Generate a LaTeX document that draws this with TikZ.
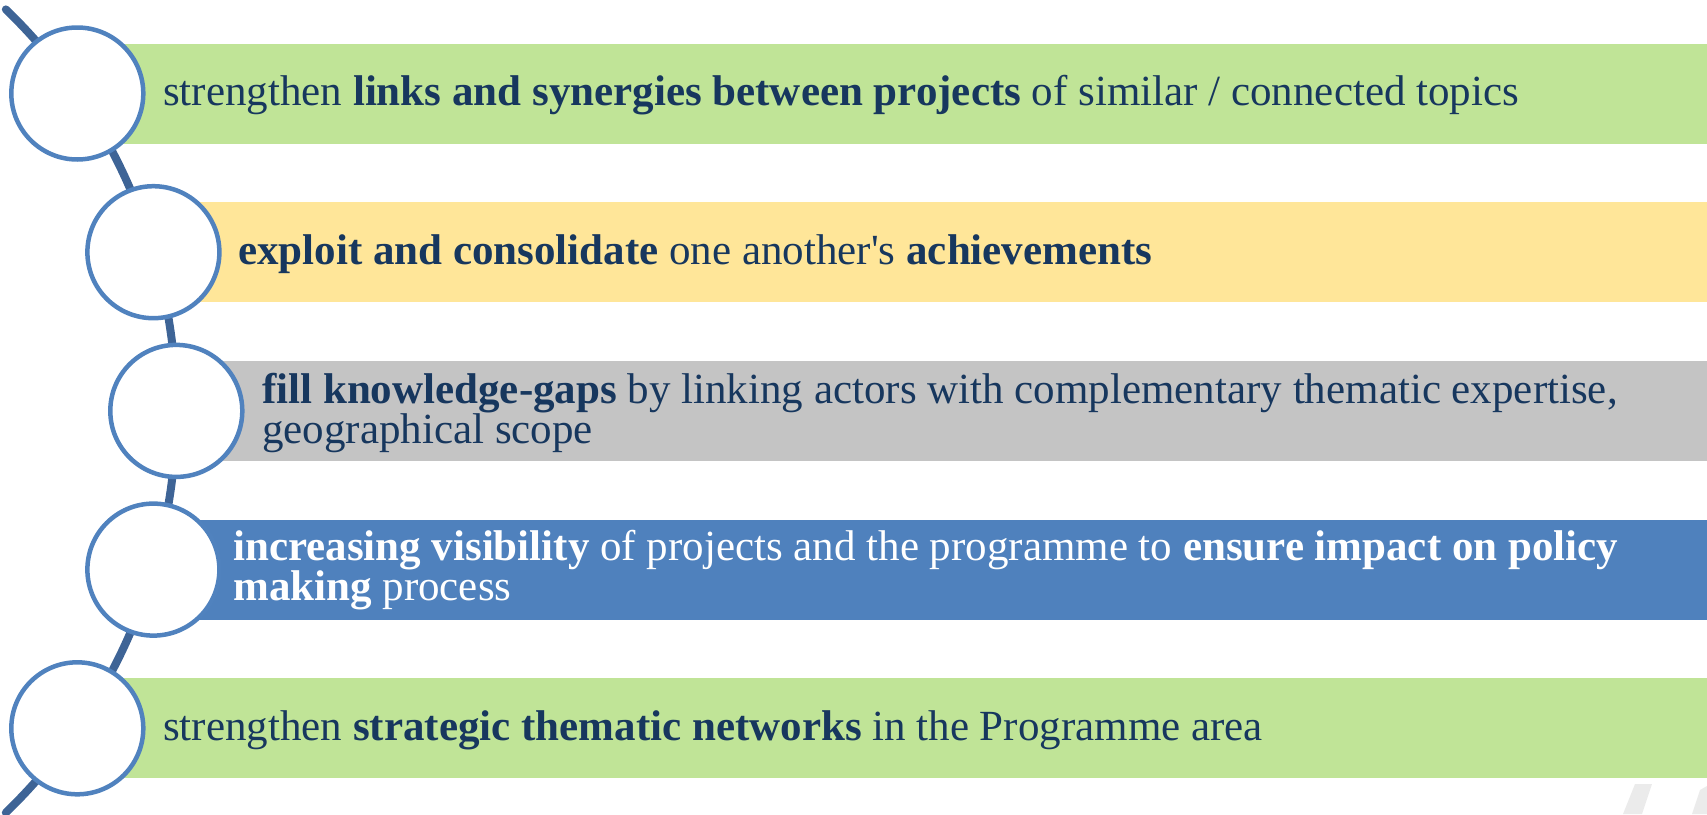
\documentclass[tikz,border=0pt]{standalone}
\usepackage{fontspec}
\setmainfont{Liberation Serif}[Ligatures=TeXOff]
\definecolor{bargreen}{RGB}{192,228,151}
\definecolor{baryellow}{RGB}{255,230,153}
\definecolor{bargray}{RGB}{196,196,196}
\definecolor{barblue}{RGB}{79,129,189}
\definecolor{ringblue}{RGB}{80,130,190}
\definecolor{connblue}{RGB}{62,100,150}
\definecolor{navy}{RGB}{23,55,94}
\definecolor{wmgray}{RGB}{235,235,235}
\begin{document}
\begin{tikzpicture}[x=1pt,y=-1pt,
  bar/.style={draw=none, rectangle, minimum height=100pt, inner sep=0pt, anchor=west},
  ring/.style={circle, draw=ringblue, line width=4.5pt, fill=white, minimum size=132pt, inner sep=0pt},
  conn/.style={draw=connblue, line width=8pt, line cap=round},
  itemtext/.style={anchor=base west, inner sep=0pt, align=left, text=navy, font=\fontsize{43}{40}\selectfont}]
\useasboundingbox (0,0) rectangle (1707,814);
% watermark shapes
\fill[wmgray] (1635,784) -- (1652,784) -- (1642,814) -- (1623,814) -- cycle;
\fill[wmgray] (1700,790) -- (1707,786) -- (1707,814) -- (1692,814) -- cycle;
% bars
\node[bar, fill=bargreen,  minimum width=1630pt] (b1) at (77.3,93.5) {};
\node[bar, fill=baryellow, minimum width=1554pt] (b2) at (153.4,252.2) {};
\node[bar, fill=bargray,   minimum width=1531pt] (b3) at (176.3,410.9) {};
\node[bar, fill=barblue,   minimum width=1554pt] (b4) at (153.4,569.6) {};
\node[bar, fill=bargreen,  minimum width=1630pt] (b5) at (77.3,728.3) {};
% connector arc through the circle centres
\coordinate (arcC) at (-382,411);
\coordinate (arcTop) at ([shift={(-46:558.3)}]arcC);
\draw[conn] (arcTop) arc[start angle=-46, end angle=46, radius=558.3];
% circles
\node[ring] (c1) at (77.3,93.5) {};
\node[ring] (c2) at (153.4,252.2) {};
\node[ring] (c3) at (176.3,410.9) {};
\node[ring] (c4) at (153.4,569.6) {};
\node[ring] (c5) at (77.3,728.3) {};
% texts (base anchor of a two-line node is its last line)
\node[itemtext] (t1) at (163,105) {strengthen \textbf{links and synergies between projects} of similar / connected topics};
\node[itemtext] (t2) at (238,264) {\textbf{exploit and consolidate} one another's \textbf{achievements}};
\node[itemtext] (t3) at (262,443) {\textbf{fill knowledge-gaps} by linking actors with complementary thematic expertise,\\geographical scope};
\node[itemtext, text=white] (t4) at (233,600) {\textbf{increasing visibility} of projects and the programme to \textbf{ensure impact on policy}\\\textbf{making} process};
\node[itemtext] (t5) at (163,740) {strengthen \textbf{strategic thematic networks} in the Programme area};
\end{tikzpicture}
\end{document}
